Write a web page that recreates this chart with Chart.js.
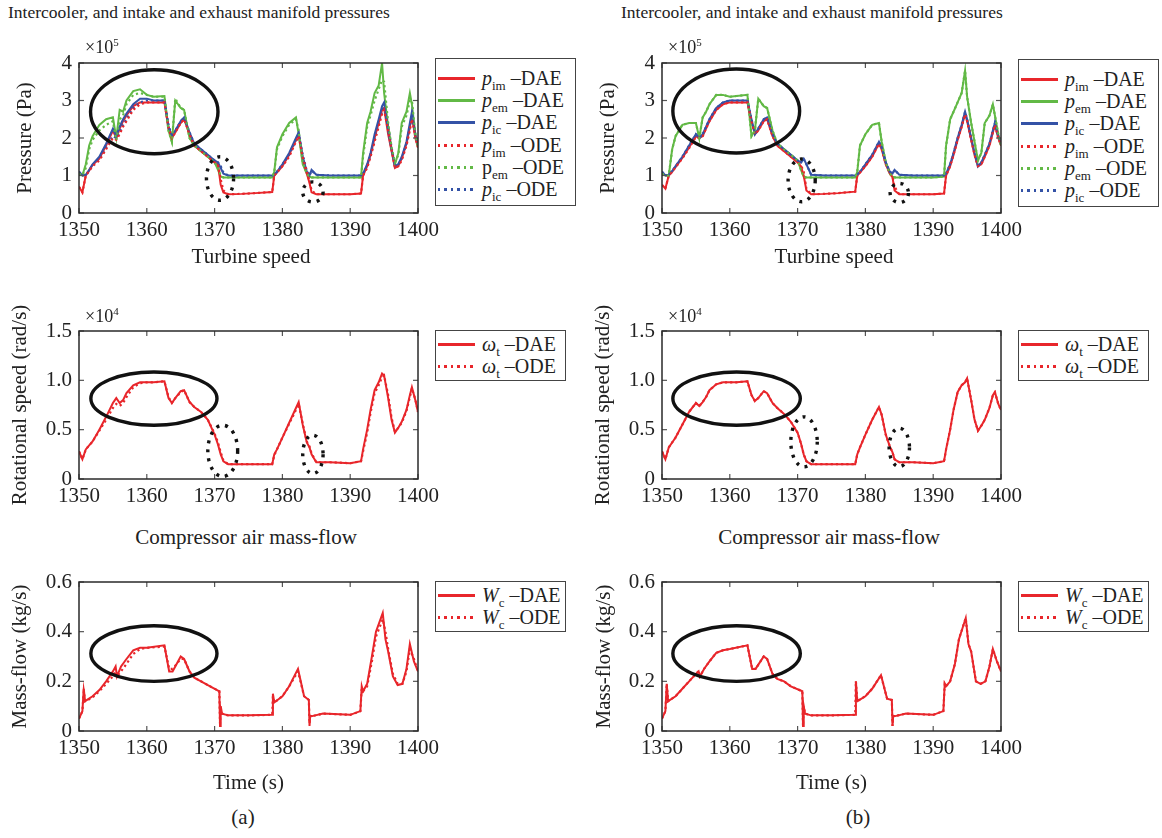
<!DOCTYPE html>
<html><head><meta charset="utf-8">
<script src="https://cdn.jsdelivr.net/npm/chart.js@4.4.1/dist/chart.umd.min.js"></script>
<style>
body{margin:0;background:#fff;width:1162px;height:838px;position:relative;overflow:hidden;font-family:"Liberation Serif","Times New Roman",serif;color:#222;}
canvas{position:absolute;}
.t{position:absolute;font-size:21px;white-space:nowrap;line-height:21px;}
.c{text-align:center;width:300px;}
.ttl{position:absolute;font-size:17.5px;white-space:nowrap;line-height:18px;}
.mul{position:absolute;font-size:18px;line-height:18px;white-space:nowrap;}
.mul sup{font-size:11px;vertical-align:7px;}
.leg{position:absolute;border:1.5px solid #444;background:#fff;box-sizing:border-box;}
.row{position:absolute;left:2px;height:22px;width:130px;font-size:20px;line-height:22px;white-space:nowrap;}
.smp{position:absolute;left:0;top:10px;width:37px;height:2.5px;}
.lbl{position:absolute;left:44px;top:0;}
.lbl sub{font-size:13px;vertical-align:-5px;line-height:0;}
</style></head><body>
<script>
// ---------------- data ----------------
const T_P = [1350,1350.5,1351,1351.5,1352, 1353,1354,1355,1355.5,1356, 1356.5,1357,1358,1359,1360,
  1361,1362.6,1363.2,1363.7,1364.2, 1365,1365.5,1366.3,1367,1368, 1369,1370,1370.5,1370.9,1371.3,
  1372,1374,1376,1378.5,1378.8, 1379.2,1380,1381,1382,1382.4, 1383,1383.6,1384,1384.3,1385,
  1387,1390,1391.6,1391.9,1392.5, 1393,1393.6,1394.2,1394.7,1395.0, 1395.6,1396.1,1396.6,1397.1,1397.6,
  1398.3,1398.8,1399.1,1399.6,1400];

// panel (a) pressures, x1e5 Pa
const pimDaeA = [0.7,0.55,1.0,1.13,1.28, 1.45,1.8,2.2,2.0,2.25, 2.45,2.6,2.85,2.95,2.95,
  2.95,2.95,2.25,2.0,2.15, 2.4,2.5,2.1,1.8,1.65, 1.5,1.35,1.3,0.75,0.55,
  0.5,0.51,0.53,0.56,1.0, 1.08,1.25,1.55,1.95,2.1, 1.45,1.05,0.8,0.55,0.5,
  0.5,0.5,0.52,1.0,1.25, 1.55,2.0,2.4,2.75,2.8, 2.1,1.65,1.2,1.25,1.45,
  1.85,2.3,2.6,2.0,1.75];
const pemDaeA = [1.05,1.0,1.3,1.8,2.05, 2.35,2.5,2.55,2.0,2.75, 2.7,3.0,3.25,3.3,3.15,
  3.1,3.12,2.2,1.9,3.0, 2.8,2.75,2.0,1.8,1.65, 1.5,1.35,1.15,0.97,0.95,
  0.95,0.95,0.95,0.95,1.1, 1.75,2.1,2.4,2.55,2.1, 1.3,1.05,0.97,0.95,0.95,
  0.95,0.95,0.95,1.6,2.4, 2.7,3.2,3.4,4.0,3.2, 2.3,1.7,1.3,1.6,2.4,
  2.7,3.2,2.9,2.1,1.75];
const picDaeA = [1.1,1.0,1.02,1.15,1.3, 1.5,1.85,2.25,2.05,2.3, 2.5,2.65,2.9,3.05,3.05,
  3.0,3.0,2.3,2.05,2.2, 2.45,2.55,2.15,1.85,1.7, 1.55,1.4,1.35,1.2,1.05,
  1.0,1.0,1.0,1.0,1.02, 1.1,1.3,1.6,2.0,2.15, 1.5,1.1,1.0,1.15,1.02,
  1.0,1.0,1.0,1.05,1.3, 1.6,2.1,2.5,2.85,2.95, 2.2,1.7,1.25,1.3,1.5,
  1.9,2.4,2.7,2.1,1.8];
const pimOdeA = [0.7,0.55,1.0,1.12,1.25, 1.4,1.7,2.0,1.95,2.1, 2.3,2.45,2.75,2.9,2.95,
  2.95,2.95,2.3,2.0,2.15, 2.4,2.5,2.1,1.8,1.65, 1.5,1.35,1.3,0.9,0.6,
  0.5,0.51,0.53,0.56,1.0, 1.08,1.25,1.5,1.9,2.05, 1.5,1.1,0.85,0.6,0.5,
  0.5,0.5,0.52,1.0,1.2, 1.5,1.9,2.3,2.65,2.75, 2.2,1.7,1.2,1.25,1.4,
  1.8,2.2,2.5,2.05,1.75];
const pemOdeA = [1.05,1.0,1.2,1.7,1.95, 2.2,2.35,2.45,1.95,2.5, 2.6,2.9,3.15,3.2,3.15,
  3.1,3.1,2.2,1.9,3.05, 2.8,2.75,2.0,1.8,1.65, 1.5,1.35,1.2,1.0,0.95,
  0.95,0.95,0.95,0.95,1.1, 1.7,2.05,2.35,2.5,2.2, 1.35,1.05,0.97,0.95,0.95,
  0.95,0.95,0.95,1.5,2.3, 2.6,3.0,3.3,3.55,3.5, 2.4,1.75,1.35,1.55,2.3,
  2.6,3.0,3.0,2.1,1.75];
const picOdeA = [1.1,1.0,1.02,1.13,1.27, 1.45,1.75,2.05,2.0,2.15, 2.35,2.5,2.8,2.95,3.0,
  3.0,3.0,2.35,2.05,2.2, 2.45,2.55,2.15,1.85,1.7, 1.55,1.4,1.35,1.25,1.08,
  1.0,1.0,1.0,1.0,1.02, 1.1,1.3,1.55,1.95,2.1, 1.55,1.12,1.0,1.13,1.02,
  1.0,1.0,1.0,1.05,1.25, 1.55,2.0,2.4,2.7,2.85, 2.3,1.75,1.28,1.3,1.45,
  1.85,2.3,2.6,2.1,1.8];

// panel (b) pressures, x1e5 Pa
const pimDaeB = [0.75,0.65,1.0,1.1,1.22, 1.47,1.75,2.05,2.0,2.05, 2.25,2.45,2.75,2.9,2.95,
  2.95,2.95,2.45,2.1,2.2, 2.45,2.5,2.05,1.8,1.65, 1.5,1.35,1.25,1.0,0.6,
  0.5,0.51,0.53,0.57,1.0, 1.08,1.25,1.5,1.85,1.7, 1.3,1.05,0.95,0.6,0.5,
  0.5,0.5,0.52,1.0,1.25, 1.55,1.95,2.3,2.65,2.45, 1.95,1.55,1.25,1.3,1.5,
  1.8,2.15,2.35,2.0,1.8];
const pemDaeB = [1.05,1.0,1.0,1.7,2.05, 2.35,2.4,2.4,2.0,2.55, 2.7,2.9,3.15,3.15,3.1,
  3.12,3.15,2.05,2.2,3.05, 2.85,2.8,2.2,1.85,1.7, 1.55,1.4,1.15,0.97,0.95,
  0.95,0.95,0.95,0.95,1.1, 1.8,2.1,2.35,2.4,1.9, 1.35,1.05,0.97,0.95,0.95,
  0.95,0.95,0.97,1.8,2.5, 2.7,2.95,3.2,3.8,3.1, 2.4,1.9,1.4,1.6,2.4,
  2.6,2.9,2.6,2.1,1.8];
const picDaeB = [1.1,1.0,1.02,1.12,1.25, 1.5,1.8,2.1,2.0,2.1, 2.3,2.5,2.8,2.95,3.0,
  3.0,3.0,2.5,2.1,2.25, 2.5,2.55,2.1,1.85,1.7, 1.55,1.4,1.35,1.45,1.3,
  1.02,1.0,1.0,1.0,1.02, 1.1,1.3,1.55,1.9,1.75, 1.35,1.1,1.05,1.15,1.02,
  1.0,1.0,1.0,1.05,1.3, 1.6,2.0,2.35,2.7,2.5, 2.0,1.6,1.25,1.35,1.55,
  1.85,2.2,2.4,2.05,1.85];
const pimOdeB = [0.75,0.65,1.0,1.1,1.22, 1.45,1.73,2.03,2.0,2.05, 2.25,2.45,2.75,2.9,2.95,
  2.95,2.95,2.45,2.1,2.2, 2.45,2.5,2.05,1.8,1.65, 1.5,1.35,1.27,1.1,0.65,
  0.5,0.51,0.53,0.57,1.0, 1.08,1.25,1.5,1.85,1.7, 1.3,1.05,0.97,0.7,0.5,
  0.5,0.5,0.52,1.0,1.25, 1.55,1.95,2.3,2.63,2.45, 1.95,1.55,1.25,1.3,1.5,
  1.8,2.15,2.35,2.0,1.8];
const pemOdeB = pemDaeB;   // visually coincident with DAE in (b)
const picOdeB = picDaeB;

// turbine speed, x1e4 rad/s
const wtDaeA = [0.28,0.2,0.3,0.34,0.38, 0.5,0.63,0.77,0.82,0.77, 0.8,0.87,0.95,0.98,0.98,
  0.98,0.99,0.82,0.77,0.82, 0.89,0.9,0.78,0.73,0.68, 0.6,0.45,0.35,0.25,0.18,
  0.15,0.15,0.15,0.15,0.25, 0.3,0.42,0.57,0.72,0.78, 0.55,0.37,0.32,0.25,0.17,
  0.17,0.16,0.18,0.3,0.5, 0.7,0.9,0.98,1.07,1.05, 0.82,0.6,0.47,0.52,0.58,
  0.7,0.85,0.93,0.8,0.68];
const wtOdeA = [0.28,0.2,0.3,0.34,0.38, 0.49,0.6,0.72,0.76,0.74, 0.77,0.83,0.93,0.97,0.98,
  0.98,0.99,0.83,0.77,0.82, 0.88,0.9,0.78,0.73,0.68, 0.6,0.46,0.37,0.27,0.19,
  0.15,0.15,0.15,0.15,0.24, 0.3,0.42,0.56,0.7,0.76, 0.56,0.38,0.33,0.26,0.17,
  0.17,0.16,0.18,0.28,0.47, 0.67,0.87,0.95,1.03,1.05, 0.85,0.62,0.48,0.52,0.57,
  0.69,0.83,0.92,0.81,0.68];
const wtDaeB = [0.28,0.2,0.32,0.37,0.42, 0.55,0.68,0.77,0.74,0.78, 0.83,0.9,0.96,0.98,0.98,
  0.98,0.99,0.85,0.79,0.82, 0.89,0.87,0.77,0.72,0.66, 0.58,0.47,0.36,0.25,0.18,
  0.15,0.15,0.15,0.15,0.25, 0.32,0.45,0.6,0.73,0.65, 0.45,0.33,0.27,0.2,0.17,
  0.17,0.16,0.18,0.3,0.5, 0.7,0.88,0.95,0.98,1.02, 0.8,0.6,0.49,0.54,0.6,
  0.72,0.85,0.88,0.76,0.7];
const wtOdeB = wtDaeB;

// compressor mass flow, kg/s
const T_W = [1350,1350.5,1350.7,1350.9,1352, 1353,1354,1355,1355.4,1355.6, 1356.2,1357,1358,1359,1360,
  1362.6,1363.3,1363.8,1365,1365.5, 1366.3,1367,1368,1369,1370.7, 1370.8,1370.9,1371.1,1372,1375,
  1378.5,1378.6,1378.8,1380,1381, 1382.3,1383.2,1383.9,1384.0,1384.1, 1384.4,1386,1390,1391.5,1391.7,
  1391.9,1392.5,1393.2,1393.8,1394.8, 1395.2,1395.6,1396.3,1397,1397.7, 1398.3,1398.8,1399.4,1400];
const wcDaeA = [0.05,0.08,0.17,0.12,0.14, 0.165,0.2,0.24,0.26,0.22, 0.26,0.29,0.325,0.335,0.335,
  0.345,0.24,0.24,0.3,0.29, 0.24,0.215,0.2,0.185,0.16, 0.02,0.1,0.07,0.063,0.063,
  0.065,0.15,0.115,0.14,0.18, 0.25,0.14,0.125,0.02,0.06, 0.06,0.07,0.065,0.08,0.18,
  0.16,0.19,0.3,0.4,0.475, 0.37,0.32,0.22,0.185,0.19, 0.25,0.35,0.28,0.24];
const wcOdeA = [0.05,0.08,0.16,0.12,0.135, 0.16,0.19,0.22,0.24,0.22, 0.24,0.27,0.31,0.33,0.335,
  0.34,0.25,0.25,0.29,0.29, 0.24,0.215,0.2,0.185,0.16, 0.03,0.09,0.07,0.063,0.063,
  0.065,0.14,0.115,0.14,0.18, 0.24,0.14,0.125,0.03,0.06, 0.06,0.07,0.065,0.08,0.17,
  0.16,0.18,0.28,0.38,0.45, 0.4,0.33,0.23,0.19,0.19, 0.24,0.33,0.29,0.24];
const wcDaeB = [0.05,0.08,0.19,0.12,0.14, 0.17,0.2,0.23,0.24,0.22, 0.25,0.28,0.315,0.325,0.33,
  0.345,0.25,0.25,0.3,0.29, 0.23,0.21,0.2,0.18,0.16, 0.02,0.1,0.07,0.063,0.063,
  0.065,0.2,0.12,0.14,0.17, 0.225,0.13,0.125,0.02,0.06, 0.06,0.07,0.065,0.08,0.19,
  0.18,0.2,0.27,0.37,0.455, 0.35,0.32,0.2,0.19,0.2, 0.26,0.33,0.28,0.24];
const wcOdeB = wcDaeB;

// tick labels
const P_TICKS = ['0','1','2','3','4'];
const S_TICKS = ['0','0.5','1.0','1.5'];
const W_TICKS = ['0','0.2','0.4','0.6'];

// highlight ellipses in data units: [centre t, centre y, half-width, half-height, dotted]
const ellTopA = [[1361.1,2.7,9.4,1.12,0],[1370.8,0.92,2.0,0.58,1],[1384.5,0.56,1.5,0.27,1]];
const ellMidA = [[1361.05,0.815,9.3,0.27,0],[1371.2,0.285,2.2,0.26,1],[1384.5,0.25,1.5,0.195,1]];
const ellBotA = [[1361.05,0.312,9.3,0.112,0]];
const ellTopB = [[1360.95,2.72,9.35,1.12,0],[1370.6,0.87,2.0,0.57,1],[1385.0,0.535,1.35,0.255,1]];
const ellMidB = [[1361.0,0.815,9.4,0.27,0],[1370.95,0.377,1.95,0.253,1],[1385.0,0.32,1.5,0.195,1]];
const ellBotB = [[1361.0,0.312,9.4,0.112,0]];

// ---------------- styles ----------------
const RED = '#e8262b', GREEN = '#62b946', BLUE = '#3452a6';
const FONT = '"Liberation Serif", "Times New Roman", serif';
const DX = 583;

const framePlugin = {
  id: 'frame',
  afterDatasetsDraw(chart, args, opts) {
    const {ctx, chartArea: a, scales: {x, y}} = chart;
    ctx.save();
    (opts.ellipses || []).forEach(e => {
      const cx = x.getPixelForValue(e[0]), cy = y.getPixelForValue(e[1]);
      const rx = Math.abs(x.getPixelForValue(e[0] + e[2]) - cx);
      const ry = Math.abs(y.getPixelForValue(e[1] + e[3]) - cy);
      ctx.beginPath();
      ctx.ellipse(cx, cy, rx, ry, 0, 0, Math.PI * 2);
      ctx.strokeStyle = '#111';
      ctx.lineWidth = 3.4;
      ctx.setLineDash(e[4] ? [3, 6] : []);
      ctx.stroke();
    });
    ctx.setLineDash([]);
    ctx.strokeStyle = '#555'; ctx.lineWidth = 1.2;
    const seg = (x1, y1, x2, y2) => { ctx.beginPath(); ctx.moveTo(x1, y1); ctx.lineTo(x2, y2); ctx.stroke(); };
    x.ticks.forEach(t => { const p = x.getPixelForValue(t.value); seg(p, a.bottom, p, a.bottom - 5); seg(p, a.top, p, a.top + 5); });
    y.ticks.forEach(t => { const p = y.getPixelForValue(t.value); seg(a.left, p, a.left + 5, p); seg(a.right, p, a.right - 5, p); });
    ctx.strokeStyle = '#2a2a2a'; ctx.lineWidth = 1.5;
    ctx.strokeRect(a.left, a.top, a.right - a.left, a.bottom - a.top);
    ctx.restore();
  }
};

const pts = (T, V) => T.map((t, i) => ({x: t, y: V[i]}));
const ds = (T, V, color, dotted, order) => ({
  data: pts(T, V), borderColor: color, backgroundColor: color,
  borderWidth: dotted ? 2.2 : 2, borderDash: dotted ? [2.2, 3] : [],
  pointRadius: 0, tension: 0, fill: false, order: order
});

function panel(o) {
  const cv = document.createElement('canvas');
  cv.width = o.w; cv.height = o.h;
  cv.style.left = o.left + 'px'; cv.style.top = o.top + 'px';
  document.body.appendChild(cv);
  const [l, t, r, b] = o.area.map((v, i) => i % 2 ? v - o.top : v - o.left);
  const lh = 21 * 1.2;
  const padLeft = o.yTitleX - o.left - lh / 2;
  let padBottom = 0, xH = o.h - b;
  if (o.xTitle) { const sb = o.xTitleY - o.top + lh / 2; padBottom = o.h - sb; xH = sb - b; }
  new Chart(cv, {
    type: 'line',
    data: {datasets: o.datasets},
    options: {
      responsive: false, animation: false, events: [],
      layout: {padding: {left: padLeft, top: t, right: o.w - r, bottom: padBottom}},
      plugins: {legend: {display: false}, tooltip: {enabled: false}, title: {display: false},
        frame: {ellipses: o.ellipses}},
      scales: {
        x: {type: 'linear', min: 1350, max: 1400,
          grid: {display: false, drawTicks: false}, border: {display: false},
          ticks: {stepSize: 10, padding: 5, color: '#222', font: {family: FONT, size: 21},
            maxRotation: 0, autoSkip: false, callback: v => String(v)},
          title: {display: !!o.xTitle, text: o.xTitle || '', color: '#222', padding: 0,
            font: {family: FONT, size: 21}},
          afterFit: s => { s.height = xH; s.paddingLeft = 0; s.paddingRight = 0; }
        },
        y: {type: 'linear', min: 0, max: o.yMax,
          grid: {display: false, drawTicks: false}, border: {display: false},
          ticks: {stepSize: o.yStep, padding: 7, color: '#222', font: {family: FONT, size: 21},
            callback: (v, i) => o.yLabels[i]},
          title: {display: true, text: o.yTitle, color: '#222', padding: 0,
            font: {family: FONT, size: 21}},
          afterFit: s => { s.width = l - padLeft; s.paddingTop = 0; s.paddingBottom = 0; }
        }
      }
    },
    plugins: [framePlugin]
  });
}

function addDiv(cls, x, y, html) {
  const d = document.createElement('div');
  d.className = cls; d.style.left = x + 'px'; d.style.top = y + 'px';
  d.innerHTML = html; document.body.appendChild(d);
}

function legend(x, y, w, h, rows, rowTops) {
  const d = document.createElement('div');
  d.className = 'leg';
  d.style.left = x + 'px'; d.style.top = y + 'px'; d.style.width = w + 'px'; d.style.height = h + 'px';
  rows.forEach((r, i) => {
    const bg = r.dot
      ? `background:repeating-linear-gradient(90deg, ${r.color} 0 2.5px, transparent 2.5px 6.5px);`
      : `background:${r.color};`;
    const sym = r.it ? `<i>${r.sym}</i>` : r.sym;
    d.innerHTML += `<div class="row" style="top:${rowTops[i] - 11}px"><span class="smp" style="${bg}"></span>` +
      `<span class="lbl">${sym}<sub>${r.sub}</sub> ${r.suf}</span></div>`;
  });
  document.body.appendChild(d);
}

const legTopRowsA = [
  {sym: 'p', it: true, sub: 'im', suf: '–DAE', color: RED, dot: false},
  {sym: 'p', it: true, sub: 'em', suf: '–DAE', color: GREEN, dot: false},
  {sym: 'p', it: true, sub: 'ic', suf: '–DAE', color: BLUE, dot: false},
  {sym: 'p', it: true, sub: 'im', suf: '–ODE', color: RED, dot: true},
  {sym: 'p', it: false, sub: 'em', suf: '–ODE', color: GREEN, dot: true},
  {sym: 'p', it: true, sub: 'ic', suf: '–ODE', color: BLUE, dot: true}];
const legTopRowsB = legTopRowsA.map(r => Object.assign({}, r, {it: true}));
const legMidRows = [
  {sym: 'ω', it: true, sub: 't', suf: '–DAE', color: RED, dot: false},
  {sym: 'ω', it: true, sub: 't', suf: '–ODE', color: RED, dot: true}];
const legBotRows = [
  {sym: 'W', it: true, sub: 'c', suf: '–DAE', color: RED, dot: false},
  {sym: 'W', it: true, sub: 'c', suf: '–ODE', color: RED, dot: true}];

const cols = [
  {dx: 0, tag: '(a)', titleX: 8, tagX: 243, yT: [25, 20, 20],
   top: [ds(T_P, pemDaeA, GREEN, 0, 3), ds(T_P, pimDaeA, RED, 0, 2), ds(T_P, picDaeA, BLUE, 0, 1),
         ds(T_P, pemOdeA, GREEN, 1, 0), ds(T_P, pimOdeA, RED, 1, 0), ds(T_P, picOdeA, BLUE, 1, 0)],
   mid: [ds(T_P, wtDaeA, RED, 0, 1), ds(T_P, wtOdeA, RED, 1, 0)],
   bot: [ds(T_W, wcDaeA, RED, 0, 1), ds(T_W, wcOdeA, RED, 1, 0)],
   eT: ellTopA, eM: ellMidA, eB: ellBotA, leg: legTopRowsA, legTop: 58},
  {dx: DX, tag: '(b)', titleX: 621, tagX: 858, yT: [608, 603, 604],
   top: [ds(T_P, pemDaeB, GREEN, 0, 3), ds(T_P, pimDaeB, RED, 0, 2), ds(T_P, picDaeB, BLUE, 0, 1),
         ds(T_P, pemOdeB, GREEN, 1, 0), ds(T_P, pimOdeB, RED, 1, 0), ds(T_P, picOdeB, BLUE, 1, 0)],
   mid: [ds(T_P, wtDaeB, RED, 0, 1), ds(T_P, wtOdeB, RED, 1, 0)],
   bot: [ds(T_W, wcDaeB, RED, 0, 1), ds(T_W, wcOdeB, RED, 1, 0)],
   eT: ellTopB, eM: ellMidB, eB: ellBotB, leg: legTopRowsB, legTop: 59}
];

cols.forEach(c => {
  const dx = c.dx;
  panel({left: dx, top: 30, w: 445, h: 215, area: [79 + dx, 63, 418 + dx, 213],
    yTitleX: c.yT[0], datasets: c.top, yMax: 4, yStep: 1, yLabels: P_TICKS,
    yTitle: 'Pressure (Pa)', ellipses: c.eT});
  panel({left: dx, top: 300, w: 445, h: 215, area: [79 + dx, 331, 418 + dx, 479],
    yTitleX: c.yT[1], datasets: c.mid, yMax: 1.5, yStep: 0.5, yLabels: S_TICKS,
    yTitle: 'Rotational speed (rad/s)', ellipses: c.eM});
  panel({left: dx, top: 560, w: 445, h: 240, area: [79 + dx, 582, 418 + dx, 731],
    yTitleX: c.yT[2], xTitleY: 783, xTitle: 'Time (s)', datasets: c.bot, yMax: 0.6, yStep: 0.2,
    yLabels: W_TICKS, yTitle: 'Mass-flow (kg/s)', ellipses: c.eB});

  addDiv('ttl', c.titleX, 3, 'Intercooler, and intake and exhaust manifold pressures');
  addDiv('mul', 85 + dx, 33, '×10<sup>5</sup>');
  addDiv('t c', 251 - 150 + dx, 246, 'Turbine speed');
  addDiv('mul', 85 + dx, 302, '×10<sup>4</sup>');
  addDiv('t c', 246 - 150 + dx, 527, 'Compressor air mass-flow');
  addDiv('t c', c.tagX - 150, 807, c.tag);

  legend(435 + dx, c.legTop, 141, 148, c.leg, [19, 41, 63, 86, 108, 130]);
  legend(435 + dx, 330, 131, 51, legMidRows, [13, 35]);
  legend(435 + dx, 581, 131, 51, legBotRows, [13, 35]);
});
</script>
</body></html>
